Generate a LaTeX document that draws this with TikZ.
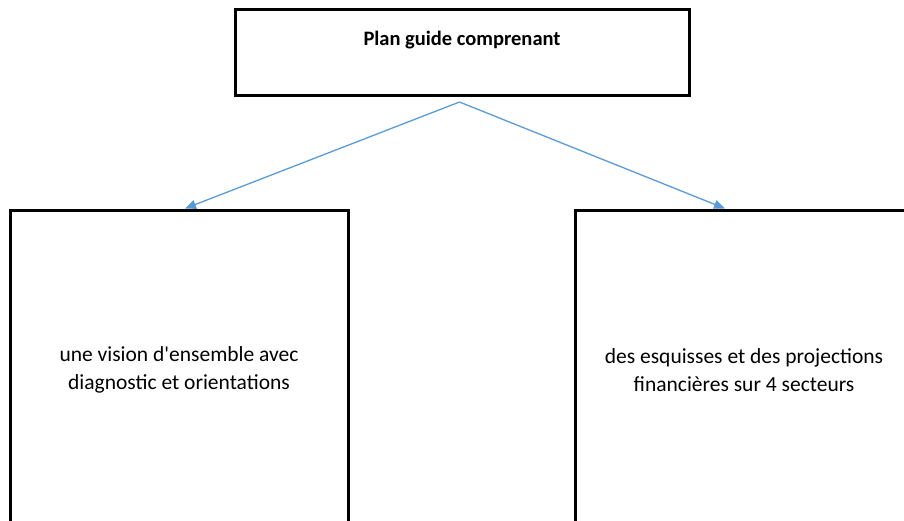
\documentclass[tikz,border=0pt]{standalone}
\usepackage{fontspec}
\setmainfont{Carlito}[Ligatures=TeXOff]
\usetikzlibrary{arrows.meta}
\definecolor{arrowblue}{HTML}{5B9BD5}
\begin{document}
\begin{tikzpicture}[x=1pt,y=-1pt,
  box/.style={draw=black,line width=3pt,rectangle,inner sep=0pt},
  conn/.style={draw=arrowblue,line width=1.3pt,-{Triangle[length=11pt,width=9pt]}},
  txt/.style={font=\fontsize{21.5}{28}\selectfont,align=center}]
\useasboundingbox (0,0) rectangle (904,520);
\clip (0,0) rectangle (904,520);
\node[box,minimum width=454.5pt,minimum height=86pt] (top) at (462.25,52.5) {};
\node[anchor=base,font=\fontsize{20.5}{24}\selectfont\bfseries] (title) at (462,45) {Plan guide comprenant};
\node[box,minimum width=338pt,minimum height=320pt,txt] (left) at (179,370) {une vision d'ensemble avec\\diagnostic et orientations};
\node[box,minimum width=338pt,minimum height=320pt,txt] (right) at (744,370) {des esquisses et des projections\\financières sur 4 secteurs};
\coordinate (apex) at ([xshift=-2.75pt,yshift=-5pt]top.south);
\coordinate (lend) at ([xshift=6pt]left.north);
\coordinate (rend) at ([xshift=-19pt]right.north);
\draw[conn] (apex) -- (lend);
\draw[conn] (apex) -- (rend);
\end{tikzpicture}
\end{document}
